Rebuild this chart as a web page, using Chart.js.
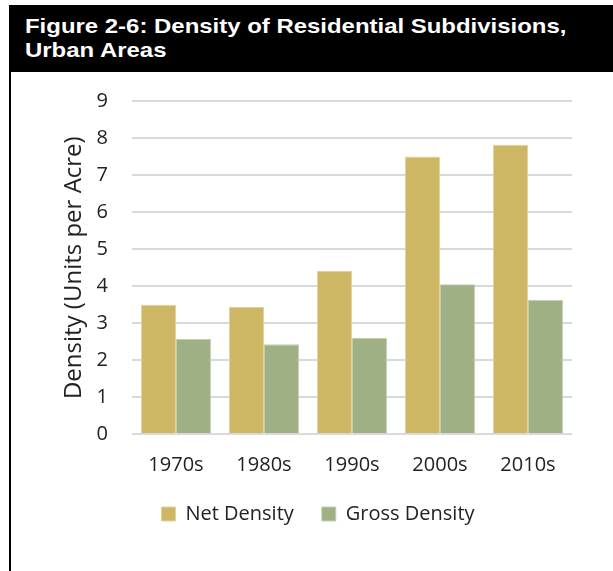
<!DOCTYPE html>
<html>
<head>
<meta charset="utf-8">
<script src="https://cdn.jsdelivr.net/npm/chart.js@4"></script>
<style>
  body { margin: 0; background: #fff; width: 613px; height: 571px; overflow: hidden; position: relative; }
  #frame { position: absolute; left: 9px; top: 5px; width: 700px; height: 700px; border-left: 2px solid #000; }
  #title {
    position: absolute; left: 9px; top: 5px; width: 604px; height: 67px; background: #000; color: #fff;
    padding: 9px 0 0 16px; box-sizing: border-box;
  }
  #title span {
    display: block; white-space: nowrap; transform: scaleX(1.14); transform-origin: left top;
    font-family: "Liberation Sans", Arial, sans-serif; font-weight: bold; font-size: 21px; line-height: 24px;
  }
  #chartBox { position: absolute; left: 12px; top: 72px; }
</style>
</head>
<body>
<div id="frame"></div>
<div id="title"><span>Figure 2-6: Density of Residential Subdivisions,<br>Urban Areas</span></div>
<div id="chartBox"><canvas id="chart" width="601" height="499"></canvas></div>
<script>
// Data
const decades = ['1970s', '1980s', '1990s', '2000s', '2010s'];
const netDensity = [3.50, 3.44, 4.42, 7.51, 7.83];
const grossDensity = [2.57, 2.43, 2.60, 4.05, 3.63];
const yTicks = [0, 1, 2, 3, 4, 5, 6, 7, 8, 9];

const FONT = '"Open Sans", sans-serif';

// move legend to where the original has it (canvas coords)
const legendShift = {
    id: 'legendShift',
    afterLayout(chart) {
        const lg = chart.legend;
        const dx = 26;
        const dy = 404 - lg.top;
        lg.left += dx; lg.right += dx;
        lg.top += dy; lg.bottom += dy;
    }
};

const ctx = document.getElementById('chart').getContext('2d');
new Chart(ctx, {
    type: 'bar',
    data: {
        labels: decades,
        datasets: [{
            label: 'Net Density',
            data: netDensity,
            backgroundColor: '#cdb765',
            borderColor: '#e2d39c',
            borderWidth: 1,
            categoryPercentage: 0.795,
            barPercentage: 1
        }, {
            label: 'Gross Density',
            data: grossDensity,
            backgroundColor: '#9fb084',
            borderColor: '#c3cfb0',
            borderWidth: 1,
            categoryPercentage: 0.795,
            barPercentage: 1
        }]
    },
    options: {
        responsive: false,
        animation: false,
        layout: { padding: { top: 29.4, right: 41, bottom: 17, left: 0 } },
        scales: {
            y: {
                min: 0, max: 9,
                afterBuildTicks: (scale) => { scale.ticks = yTicks.map(v => ({ value: v })); },
                afterFit: (scale) => { scale.width = 120; },
                border: { display: false },
                // invisible tick marks give the label gap without padding the top
                grid: { color: '#d9d9d9', lineWidth: 2, drawTicks: true, tickLength: 20, tickColor: 'rgba(0,0,0,0)' },
                ticks: { padding: 4, color: '#222', font: { family: FONT, size: 20 } },
                title: {
                    display: true, text: 'Density (Units per Acre)', color: '#222',
                    font: { family: FONT, size: 24 }, padding: { top: 48, bottom: 0 }
                }
            },
            x: {
                border: { display: false },
                grid: { display: false, drawTicks: false },
                ticks: { padding: 19, color: '#222', font: { family: FONT, size: 20 } }
            }
        },
        plugins: {
            legend: {
                position: 'bottom',
                labels: {
                    boxWidth: 14, boxHeight: 14, padding: 28, color: '#222',
                    font: { family: FONT, size: 20 }
                }
            },
            tooltip: { enabled: false }
        }
    },
    plugins: [legendShift]
});
</script>
</body>
</html>
